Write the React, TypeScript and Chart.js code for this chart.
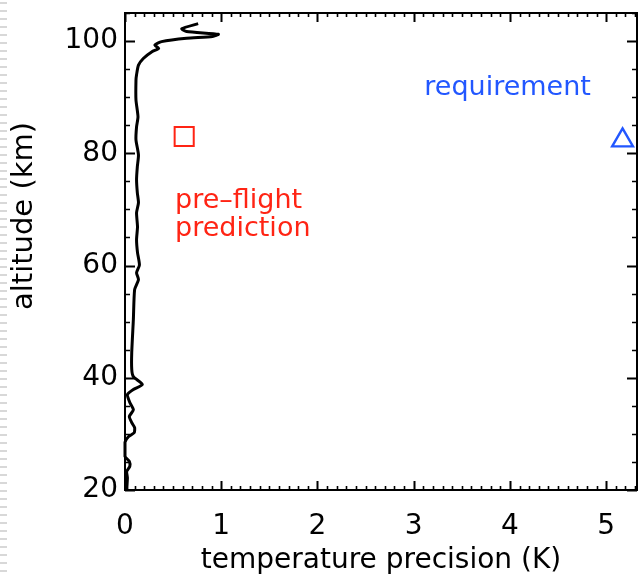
import React, { useEffect, useRef } from "react";
import { Chart, registerables } from "chart.js";

Chart.register(...registerables);

// Retrieved temperature precision profile (K) against altitude (km), top to bottom
const altitudeKm = [
  103.1, 102.2, 101.7, 101.2, 100.8, 100.5, 99.9, 99.3, 98.7, 98.1, 96.9, 95.7,
  94.0, 93.0, 89.5, 86.5, 84.7, 82.4, 79.7, 77.6, 75.3, 73.0, 71.2, 69.4, 66.9,
  64.6, 62.3, 60.1, 58.7, 57.5, 55.7, 50.4, 44.5, 41.5, 40.2, 38.8, 37.9, 37.0,
  35.6, 34.3, 33.1, 32.0, 31.1, 30.2, 29.5, 28.5, 26.0, 25.1, 24.2, 23.3, 22.2,
  20.6, 20.0,
];
const precisionK = [
  0.76, 0.59, 0.64, 0.97, 0.91, 0.64, 0.38, 0.31, 0.35, 0.28, 0.19, 0.14,
  0.12, 0.114, 0.114, 0.135, 0.12, 0.114, 0.14, 0.128, 0.12, 0.128, 0.14, 0.12,
  0.13, 0.12, 0.13, 0.15, 0.12, 0.14, 0.1, 0.087, 0.07, 0.07, 0.087, 0.18,
  0.087, 0.025, 0.05, 0.087, 0.045, 0.07, 0.1, 0.095, 0.035, 0.0, 0.0, 0.045,
  0.05, 0.017, 0.025, 0.02, 0.02,
];

// Reference markers
const preflightPoint = [{ x: 0.615, y: 83.0 }];
const requirementPoint = [{ x: 5.17, y: 82.3 }];

// Axis ranges and tick spacing
const X_MIN = 0;
const X_MAX = 5.32;
const X_MAJOR = 1;
const X_MINOR = 0.1;
const Y_MIN = 20;
const Y_MAX = 105;
const Y_MAJOR = 20;
const Y_MINOR = 5;

const X_TITLE = "temperature precision (K)";
const Y_TITLE = "altitude (km)";

const RED = "#ff2414";
const BLUE = "#2257ff";
const FONT = "'DejaVu Sans', sans-serif";
const AXIS_FONT_SIZE = 28;
const Y_TITLE_FONT_SIZE = 29;
const NOTE_FONT_SIZE = 27;

// Text notes, anchored in data coordinates (left edge, vertical middle)
const notes = [
  { text: "requirement", x: 3.11, y: 91.6, color: BLUE },
  { text: "pre\u2013flight", x: 0.52, y: 71.5, color: RED },
  { text: "prediction", x: 0.52, y: 66.5, color: RED },
];

const framePlugin = {
  id: "frame",
  beforeDraw(chart: any) {
    const { ctx, height } = chart;
    ctx.save();
    // faint dashed strip along the left page edge
    ctx.strokeStyle = "#d8d8d8";
    ctx.lineWidth = 2;
    for (let yy = 3; yy < height; yy += 8) {
      ctx.beginPath();
      ctx.moveTo(0, yy);
      ctx.lineTo(7, yy);
      ctx.stroke();
    }
    ctx.restore();
  },
  afterDatasetsDraw(chart: any) {
    const { ctx, chartArea: a, scales } = chart;
    const xs = scales.x;
    const ys = scales.y;
    ctx.save();
    ctx.strokeStyle = "#000";
    ctx.lineWidth = 2;
    ctx.strokeRect(a.left, a.top, a.right - a.left, a.bottom - a.top);

    const nx = Math.floor((X_MAX - X_MIN) / X_MINOR + 1e-6);
    for (let i = 0; i <= nx; i++) {
      const v = X_MIN + i * X_MINOR;
      const major = Math.abs(v / X_MAJOR - Math.round(v / X_MAJOR)) < 1e-6;
      const len = major ? 9 : 4;
      const px = Math.round(xs.getPixelForValue(v)) + 0.5;
      ctx.lineWidth = major ? 2 : 1.6;
      ctx.beginPath();
      ctx.moveTo(px, a.bottom);
      ctx.lineTo(px, a.bottom - len);
      ctx.moveTo(px, a.top);
      ctx.lineTo(px, a.top + len);
      ctx.stroke();
    }
    const ny = Math.floor((Y_MAX - Y_MIN) / Y_MINOR + 1e-6);
    for (let i = 0; i <= ny; i++) {
      const v = Y_MIN + i * Y_MINOR;
      const major = (v - Y_MIN) % Y_MAJOR === 0;
      const len = major ? 10 : 5;
      const py = Math.round(ys.getPixelForValue(v)) + 0.5;
      ctx.lineWidth = major ? 2 : 1.6;
      ctx.beginPath();
      ctx.moveTo(a.left, py);
      ctx.lineTo(a.left + len, py);
      ctx.moveTo(a.right, py);
      ctx.lineTo(a.right - len, py);
      ctx.stroke();
    }

    // vertical axis title, rotated to read upward
    ctx.fillStyle = "#000";
    ctx.font = `${Y_TITLE_FONT_SIZE}px ${FONT}`;
    ctx.textAlign = "center";
    ctx.textBaseline = "middle";
    ctx.save();
    ctx.translate(24, 216);
    ctx.rotate(-Math.PI / 2);
    ctx.fillText(Y_TITLE, 0, 0);
    ctx.restore();

    ctx.font = `${NOTE_FONT_SIZE}px ${FONT}`;
    ctx.textAlign = "left";
    ctx.textBaseline = "middle";
    for (const n of notes) {
      ctx.fillStyle = n.color;
      ctx.fillText(n.text, xs.getPixelForValue(n.x), ys.getPixelForValue(n.y));
    }
    ctx.restore();
  },
};

export default function App() {
  const canvasRef = useRef<HTMLCanvasElement | null>(null);

  useEffect(() => {
    if (!canvasRef.current) return;
    const profile = altitudeKm.map((alt, i) => ({ x: precisionK[i], y: alt }));
    const tickFont = { family: FONT, size: AXIS_FONT_SIZE };

    const chart = new Chart(canvasRef.current, {
      type: "scatter",
      data: {
        datasets: [
          {
            data: profile,
            showLine: true,
            borderColor: "#000",
            borderWidth: 3,
            pointRadius: 0,
            tension: 0.2,
            clip: false,
          },
          {
            data: preflightPoint,
            pointStyle: "rect",
            pointRadius: 13.5,
            pointBorderColor: RED,
            pointBackgroundColor: "rgba(0,0,0,0)",
            pointBorderWidth: 2,
            clip: false,
          },
          {
            data: requirementPoint,
            pointStyle: "triangle",
            pointRadius: 12,
            pointBorderColor: BLUE,
            pointBackgroundColor: "rgba(0,0,0,0)",
            pointBorderWidth: 2.4,
            clip: false,
          },
        ],
      },
      options: {
        animation: false,
        responsive: true,
        maintainAspectRatio: false,
        layout: {
          autoPadding: false,
          padding: { top: 13, right: 5, left: 0, bottom: 0 },
        },
        plugins: {
          legend: { display: false },
          tooltip: { enabled: false },
        },
        scales: {
          x: {
            type: "linear",
            min: X_MIN,
            max: X_MAX,
            grid: { display: false, drawTicks: false },
            border: { display: false },
            ticks: {
              stepSize: X_MAJOR,
              includeBounds: false,
              color: "#000",
              font: tickFont,
              padding: 20,
              maxRotation: 0,
            },
            title: {
              display: true,
              text: X_TITLE,
              color: "#000",
              font: tickFont,
              padding: { top: 0, bottom: 0 },
            },
            afterFit(scale: any) {
              scale.height = 88;
              scale.paddingLeft = 0;
              scale.paddingRight = 0;
            },
          },
          y: {
            type: "linear",
            min: Y_MIN,
            max: Y_MAX,
            grid: { display: false, drawTicks: false },
            border: { display: false },
            ticks: {
              stepSize: Y_MAJOR,
              includeBounds: false,
              color: "#000",
              font: tickFont,
              padding: 7,
            },
            title: { display: false },
            afterFit(scale: any) {
              scale.width = 125;
              scale.paddingTop = 0;
              scale.paddingBottom = 0;
            },
          },
        },
      },
      plugins: [framePlugin],
    });

    return () => chart.destroy();
  }, []);

  return (
    <div
      style={{
        position: "absolute",
        left: 0,
        top: 0,
        width: 642,
        height: 578,
        background: "#fff",
      }}
    >
      <canvas ref={canvasRef} />
    </div>
  );
}
